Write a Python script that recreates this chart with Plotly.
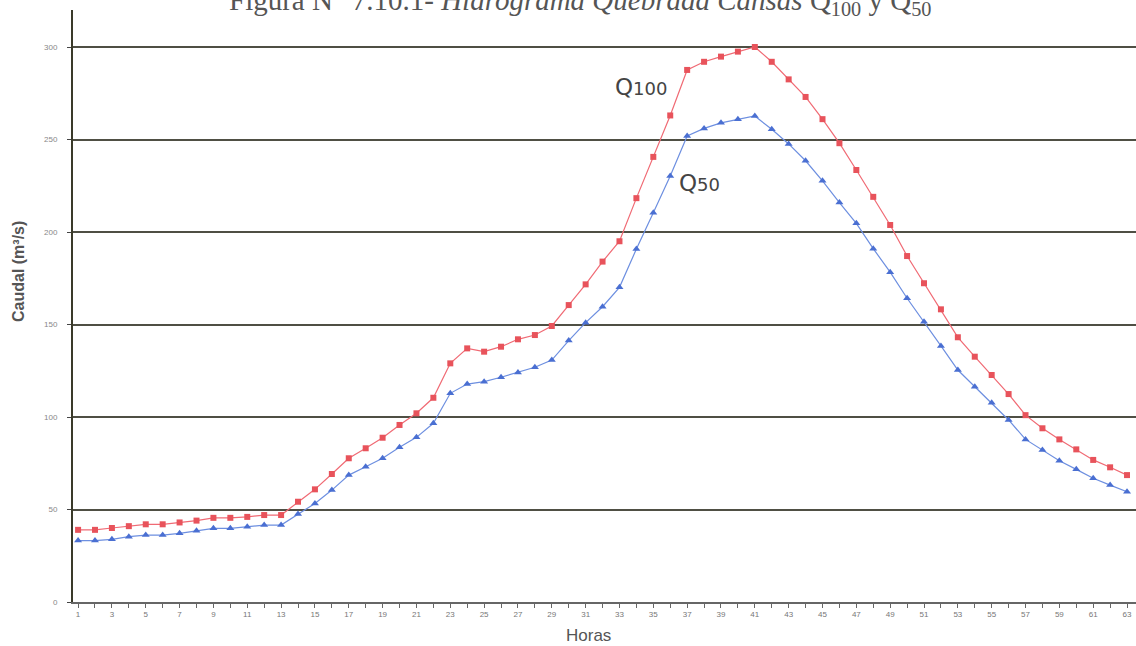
import plotly.graph_objects as go

horas = list(range(1, 64))

q100 = [39, 39, 40, 41, 42, 42, 43, 44, 45.5, 45.5, 46, 47, 47,
        54.2, 60.9, 69.2, 77.7, 83.1, 88.8, 95.7, 102, 110.4, 129, 137.1, 135.3,
        138, 142, 144.3, 149.2, 160.5, 171.7, 184, 195, 218.3, 240.6, 263, 287.6,
        292, 294.8, 297.5, 300, 292, 282.5, 273, 261, 248, 233.5, 219, 203.8,
        187, 172.3, 158.2, 143.1, 132.6, 122.7, 112.4, 101, 93.9, 87.9, 82.5,
        76.8, 72.8, 68.6]

q50 = [33.2, 33.2, 33.9, 35.3, 36.2, 36.2, 37.1, 38.5, 39.8, 39.8, 40.7, 41.6, 41.6,
       47.6, 53.3, 60.5, 68.6, 73.1, 77.7, 83.6, 89, 96.6, 112.8, 117.8, 119.1,
       121.5, 124, 126.9, 130.8, 141.3, 151, 159.6, 170.1, 190.8, 210.4, 230.3, 251.9,
       256, 259, 261, 262.7, 255.5, 247.6, 238.5, 227.7, 215.9, 204.7, 191, 178.3,
       164.2, 151.5, 138.4, 125.4, 116.4, 107.7, 98.4, 87.9, 82.2, 76.4, 71.7,
       66.9, 63.2, 59.6]

y_ticks = [0, 50, 100, 150, 200, 250, 300]

W, H = 1136, 646
L, T, B = 73, 10, 44
PW, PH = W - L, H - T - B

fig = go.Figure()
fig.add_trace(go.Scatter(
    x=horas, y=q100, mode="lines+markers", name="Q100",
    line=dict(color="#f06a74", width=1.2),
    marker=dict(symbol="square", size=6, color="#e8535b"),
))
fig.add_trace(go.Scatter(
    x=horas, y=q50, mode="lines+markers", name="Q50",
    line=dict(color="#6d8fe0", width=1.2),
    marker=dict(symbol="triangle-up", size=7, color="#4a6fd2"),
))

fig.update_layout(
    width=W, height=H,
    margin=dict(l=L, r=0, t=T, b=B),
    paper_bgcolor="white", plot_bgcolor="white",
    showlegend=False,
    font=dict(family="Arial, Liberation Sans, sans-serif"),
)

fig.update_xaxes(
    range=[0.7, 63.53],
    tickmode="linear", tick0=1, dtick=2,
    ticks="outside", ticklen=4, tickcolor="#666", tickwidth=1,
    minor=dict(tick0=1, dtick=1, ticks="outside", ticklen=4, tickcolor="#666", showgrid=False),
    showline=True, linecolor="#666", linewidth=1.5,
    showgrid=False, zeroline=False,
    tickfont=dict(size=8, color="#777"),
)
fig.update_yaxes(
    range=[0, 320],
    tickmode="array", tickvals=y_ticks,
    ticks="outside", ticklen=4, tickcolor="#444",
    showline=True, linecolor="#3a3a2a", linewidth=2,
    showgrid=True, gridcolor="#4f4f44", gridwidth=1.8,
    zeroline=False,
    tickfont=dict(size=8, color="#888"),
    ticklabelstandoff=8,
)

# Title (cut at top in reference)
fig.add_annotation(
    xref="paper", yref="paper", x=(580 - L) / PW, y=1 + (T - 2) / PH,
    xanchor="center", yanchor="middle", showarrow=False,
    text="Figura N° 7.10.1- <i>Hidrograma Quebrada Cansas</i> Q<sub>100</sub> y Q<sub>50</sub>",
    font=dict(family="Liberation Serif, Times New Roman, serif", size=29, color="#555"),
)
# Y axis title
fig.add_annotation(
    xref="paper", yref="paper", x=(18 - L) / PW, y=(602 - 272) / PH,
    xanchor="center", yanchor="middle", showarrow=False, textangle=-90,
    text="<b>Caudal (m³/s)</b>",
    font=dict(family="Liberation Sans Narrow, Arial, sans-serif", size=16, color="#555"),
)
# X axis title
fig.add_annotation(
    xref="paper", yref="paper", x=(588 - L) / PW, y=-(635 - 602) / PH,
    xanchor="center", yanchor="middle", showarrow=False,
    text="Horas",
    font=dict(family="Liberation Sans Narrow, Arial, sans-serif", size=17, color="#555"),
)
# Series labels
fig.add_annotation(
    x=32.6, y=278.4, xanchor="left", yanchor="middle", showarrow=False,
    text="<span style='font-size:23px'>Q</span><span style='font-size:18px'>100</span>",
    font=dict(family="DejaVu Sans, sans-serif", color="#444"),
)
fig.add_annotation(
    x=36.4, y=226.5, xanchor="left", yanchor="middle", showarrow=False,
    text="<span style='font-size:23px'>Q</span><span style='font-size:18px'>50</span>",
    font=dict(family="DejaVu Sans, sans-serif", color="#444"),
)

fig.write_html("out.html", config={"displayModeBar": False},
               post_script="document.body.style.margin='0';")
